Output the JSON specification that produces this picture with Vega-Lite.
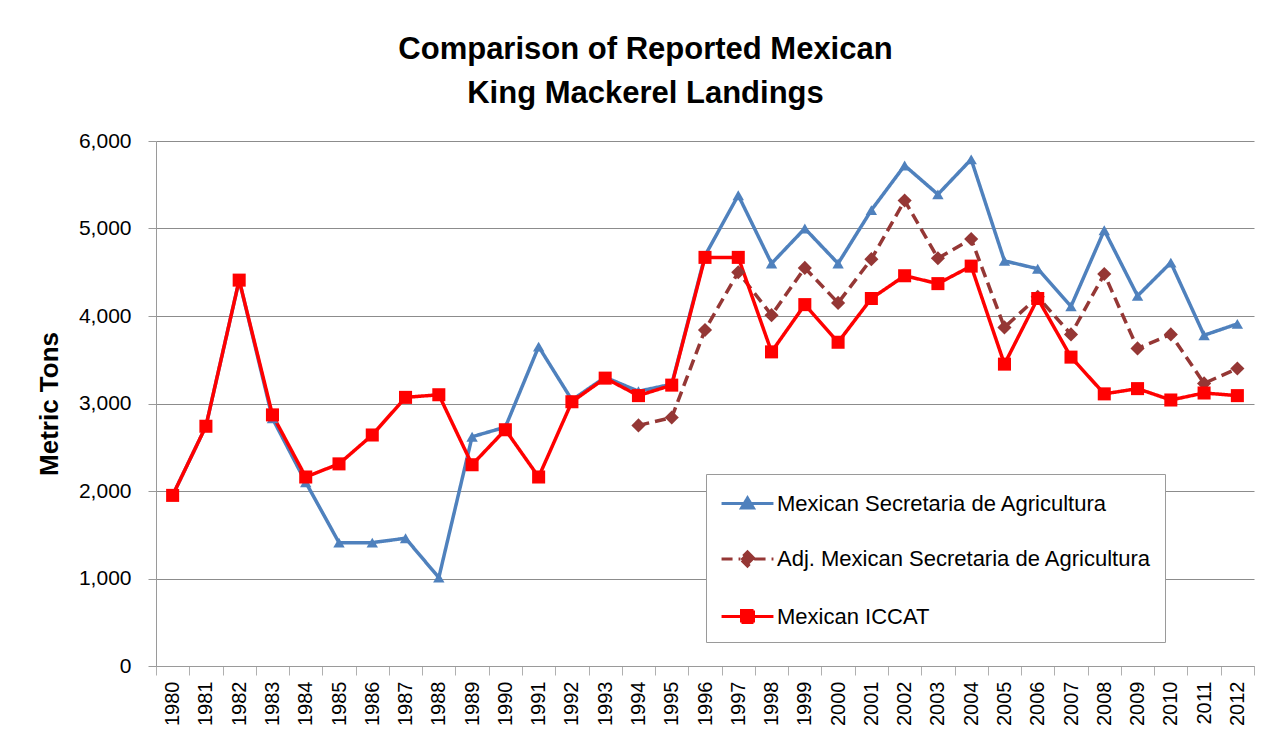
{
  "$schema": "https://vega.github.io/schema/vega-lite/v6.json",
  "width": 1098,
  "height": 525,
  "padding": {"left": 36, "top": 34, "right": 22, "bottom": 5},
  "background": "white",
  "title": {
    "text": ["Comparison of Reported Mexican", "King Mackerel Landings"],
    "font": "Liberation Sans",
    "fontSize": 31,
    "fontWeight": "bold",
    "color": "black",
    "lineHeight": 44,
    "anchor": "middle",
    "frame": "bounds",
    "offset": 20
  },
  "datasets": {
    "landings": [
      {"year": "1980", "series": "Mexican Secretaria de Agricultura", "value": 1950},
      {"year": "1981", "series": "Mexican Secretaria de Agricultura", "value": 2740},
      {"year": "1982", "series": "Mexican Secretaria de Agricultura", "value": 4410},
      {"year": "1983", "series": "Mexican Secretaria de Agricultura", "value": 2830},
      {"year": "1984", "series": "Mexican Secretaria de Agricultura", "value": 2100},
      {"year": "1985", "series": "Mexican Secretaria de Agricultura", "value": 1410},
      {"year": "1986", "series": "Mexican Secretaria de Agricultura", "value": 1410},
      {"year": "1987", "series": "Mexican Secretaria de Agricultura", "value": 1460},
      {"year": "1988", "series": "Mexican Secretaria de Agricultura", "value": 1010},
      {"year": "1989", "series": "Mexican Secretaria de Agricultura", "value": 2620},
      {"year": "1990", "series": "Mexican Secretaria de Agricultura", "value": 2730},
      {"year": "1991", "series": "Mexican Secretaria de Agricultura", "value": 3650},
      {"year": "1992", "series": "Mexican Secretaria de Agricultura", "value": 3040},
      {"year": "1993", "series": "Mexican Secretaria de Agricultura", "value": 3300},
      {"year": "1994", "series": "Mexican Secretaria de Agricultura", "value": 3140},
      {"year": "1995", "series": "Mexican Secretaria de Agricultura", "value": 3220},
      {"year": "1996", "series": "Mexican Secretaria de Agricultura", "value": 4690},
      {"year": "1997", "series": "Mexican Secretaria de Agricultura", "value": 5380},
      {"year": "1998", "series": "Mexican Secretaria de Agricultura", "value": 4600},
      {"year": "1999", "series": "Mexican Secretaria de Agricultura", "value": 5000},
      {"year": "2000", "series": "Mexican Secretaria de Agricultura", "value": 4600},
      {"year": "2001", "series": "Mexican Secretaria de Agricultura", "value": 5210},
      {"year": "2002", "series": "Mexican Secretaria de Agricultura", "value": 5720},
      {"year": "2003", "series": "Mexican Secretaria de Agricultura", "value": 5390},
      {"year": "2004", "series": "Mexican Secretaria de Agricultura", "value": 5790},
      {"year": "2005", "series": "Mexican Secretaria de Agricultura", "value": 4630},
      {"year": "2006", "series": "Mexican Secretaria de Agricultura", "value": 4540},
      {"year": "2007", "series": "Mexican Secretaria de Agricultura", "value": 4110},
      {"year": "2008", "series": "Mexican Secretaria de Agricultura", "value": 4980},
      {"year": "2009", "series": "Mexican Secretaria de Agricultura", "value": 4230},
      {"year": "2010", "series": "Mexican Secretaria de Agricultura", "value": 4610},
      {"year": "2011", "series": "Mexican Secretaria de Agricultura", "value": 3780},
      {"year": "2012", "series": "Mexican Secretaria de Agricultura", "value": 3910},
      {"year": "1994", "series": "Adj. Mexican Secretaria de Agricultura", "value": 2750},
      {"year": "1995", "series": "Adj. Mexican Secretaria de Agricultura", "value": 2840},
      {"year": "1996", "series": "Adj. Mexican Secretaria de Agricultura", "value": 3840},
      {"year": "1997", "series": "Adj. Mexican Secretaria de Agricultura", "value": 4500},
      {"year": "1998", "series": "Adj. Mexican Secretaria de Agricultura", "value": 4010},
      {"year": "1999", "series": "Adj. Mexican Secretaria de Agricultura", "value": 4550},
      {"year": "2000", "series": "Adj. Mexican Secretaria de Agricultura", "value": 4150},
      {"year": "2001", "series": "Adj. Mexican Secretaria de Agricultura", "value": 4650},
      {"year": "2002", "series": "Adj. Mexican Secretaria de Agricultura", "value": 5320},
      {"year": "2003", "series": "Adj. Mexican Secretaria de Agricultura", "value": 4660},
      {"year": "2004", "series": "Adj. Mexican Secretaria de Agricultura", "value": 4880},
      {"year": "2005", "series": "Adj. Mexican Secretaria de Agricultura", "value": 3870},
      {"year": "2006", "series": "Adj. Mexican Secretaria de Agricultura", "value": 4220},
      {"year": "2007", "series": "Adj. Mexican Secretaria de Agricultura", "value": 3790},
      {"year": "2008", "series": "Adj. Mexican Secretaria de Agricultura", "value": 4480},
      {"year": "2009", "series": "Adj. Mexican Secretaria de Agricultura", "value": 3630},
      {"year": "2010", "series": "Adj. Mexican Secretaria de Agricultura", "value": 3790},
      {"year": "2011", "series": "Adj. Mexican Secretaria de Agricultura", "value": 3230},
      {"year": "2012", "series": "Adj. Mexican Secretaria de Agricultura", "value": 3400},
      {"year": "1980", "series": "Mexican ICCAT", "value": 1950},
      {"year": "1981", "series": "Mexican ICCAT", "value": 2740},
      {"year": "1982", "series": "Mexican ICCAT", "value": 4410},
      {"year": "1983", "series": "Mexican ICCAT", "value": 2870},
      {"year": "1984", "series": "Mexican ICCAT", "value": 2160},
      {"year": "1985", "series": "Mexican ICCAT", "value": 2310},
      {"year": "1986", "series": "Mexican ICCAT", "value": 2640},
      {"year": "1987", "series": "Mexican ICCAT", "value": 3070},
      {"year": "1988", "series": "Mexican ICCAT", "value": 3100},
      {"year": "1989", "series": "Mexican ICCAT", "value": 2300},
      {"year": "1990", "series": "Mexican ICCAT", "value": 2700},
      {"year": "1991", "series": "Mexican ICCAT", "value": 2160},
      {"year": "1992", "series": "Mexican ICCAT", "value": 3020},
      {"year": "1993", "series": "Mexican ICCAT", "value": 3290},
      {"year": "1994", "series": "Mexican ICCAT", "value": 3090},
      {"year": "1995", "series": "Mexican ICCAT", "value": 3210},
      {"year": "1996", "series": "Mexican ICCAT", "value": 4670},
      {"year": "1997", "series": "Mexican ICCAT", "value": 4670},
      {"year": "1998", "series": "Mexican ICCAT", "value": 3590},
      {"year": "1999", "series": "Mexican ICCAT", "value": 4130},
      {"year": "2000", "series": "Mexican ICCAT", "value": 3700},
      {"year": "2001", "series": "Mexican ICCAT", "value": 4200},
      {"year": "2002", "series": "Mexican ICCAT", "value": 4460},
      {"year": "2003", "series": "Mexican ICCAT", "value": 4370},
      {"year": "2004", "series": "Mexican ICCAT", "value": 4570},
      {"year": "2005", "series": "Mexican ICCAT", "value": 3450},
      {"year": "2006", "series": "Mexican ICCAT", "value": 4200},
      {"year": "2007", "series": "Mexican ICCAT", "value": 3530},
      {"year": "2008", "series": "Mexican ICCAT", "value": 3110},
      {"year": "2009", "series": "Mexican ICCAT", "value": 3170},
      {"year": "2010", "series": "Mexican ICCAT", "value": 3040},
      {"year": "2011", "series": "Mexican ICCAT", "value": 3120},
      {"year": "2012", "series": "Mexican ICCAT", "value": 3090}
    ]
  },
  "data": {"name": "landings"},
  "encoding": {
    "x": {
      "field": "year",
      "type": "ordinal",
      "sort": null,
      "scale": {"type": "band", "paddingInner": 0, "paddingOuter": 0},
      "axis": {
        "title": null,
        "labelAngle": -90,
        "labelAlign": "right",
        "labelBaseline": "middle",
        "labelFont": "Liberation Sans",
        "labelFontSize": 20,
        "labelColor": "black",
        "labelPadding": 6,
        "tickBand": "extent",
        "tickSize": 9,
        "tickColor": "#b0b0b0",
        "domainColor": "#9a9a9a",
        "domainWidth": 1,
        "grid": false
      }
    },
    "y": {
      "field": "value",
      "type": "quantitative",
      "scale": {"domain": [0, 6000], "nice": false},
      "axis": {
        "title": "Metric Tons",
        "titleFont": "Liberation Sans",
        "titleFontSize": 26,
        "titleFontWeight": "bold",
        "titleColor": "black",
        "titlePadding": 16,
        "values": [0, 1000, 2000, 3000, 4000, 5000, 6000],
        "format": ",d",
        "labelFont": "Liberation Sans",
        "labelFontSize": 21,
        "labelColor": "black",
        "labelPadding": 17,
        "tickSize": 8,
        "tickColor": "#9a9a9a",
        "domainColor": "#9a9a9a",
        "grid": true,
        "gridColor": "#8c8c8c",
        "gridWidth": 1
      }
    },
    "color": {
      "field": "series",
      "type": "nominal",
      "sort": ["Mexican Secretaria de Agricultura", "Adj. Mexican Secretaria de Agricultura", "Mexican ICCAT"],
      "scale": {
        "domain": ["Mexican Secretaria de Agricultura", "Adj. Mexican Secretaria de Agricultura", "Mexican ICCAT"],
        "range": ["#4f81bd", "#953735", "#ff0000"]
      },
      "legend": {
        "title": null,
        "orient": "none",
        "legendX": 550,
        "legendY": 333,
        "padding": 13,
        "fillColor": "white",
        "strokeColor": "#9a9a9a",
        "rowPadding": 27.5,
        "symbolSize": 900,
        "symbolStrokeWidth": 3,
        "symbolOpacity": 1,
        "labelFont": "Liberation Sans",
        "labelFontSize": 22,
        "labelColor": "black",
        "labelLimit": 500,
        "labelOffset": 25,
        "encode": {
          "symbols": {
            "update": {
              "shape": {"signal": "datum.value === 'Mexican ICCAT' ? 'M-0.93,0H2.53M0.4,-0.4H1.2V0.4H0.4Z' : datum.value === 'Mexican Secretaria de Agricultura' ? 'M-0.93,0H2.53M0.8,-0.37L1.2,0.3L0.4,0.3Z' : 'M-0.93,0H0.33M1.27,0H2.53M0.8,-0.47L1.27,0L0.8,0.47L0.33,0Z'"},
              "strokeDash": {"signal": "datum.value === 'Adj. Mexican Secretaria de Agricultura' ? [7,4] : [1,0]"},
              "fill": {"scale": "color", "field": "value"},
              "stroke": {"scale": "color", "field": "value"},
              "strokeWidth": {"value": 3},
              "opacity": {"value": 1}
            }
          }
        }
      }
    }
  },
  "layer": [
    {
      "mark": {"type": "line", "strokeWidth": 3.5},
      "encoding": {
        "strokeDash": {
          "field": "series",
          "type": "nominal",
          "scale": {
            "domain": ["Mexican Secretaria de Agricultura", "Adj. Mexican Secretaria de Agricultura", "Mexican ICCAT"],
            "range": [[1, 0], [11, 6], [1, 0]]
          },
          "legend": null
        }
      }
    },
    {
      "transform": [{"filter": "datum.series === 'Mexican Secretaria de Agricultura'"}],
      "mark": {"type": "point", "filled": true, "opacity": 1, "shape": "triangle-up", "size": 130}
    },
    {
      "transform": [{"filter": "datum.series === 'Adj. Mexican Secretaria de Agricultura'"}],
      "mark": {"type": "point", "filled": true, "opacity": 1, "shape": "diamond", "size": 200}
    },
    {
      "transform": [{"filter": "datum.series === 'Mexican ICCAT'"}],
      "mark": {"type": "point", "filled": true, "opacity": 1, "shape": "square", "size": 170}
    }
  ],
  "config": {
    "view": {"stroke": null},
    "font": "Liberation Sans"
  }
}
